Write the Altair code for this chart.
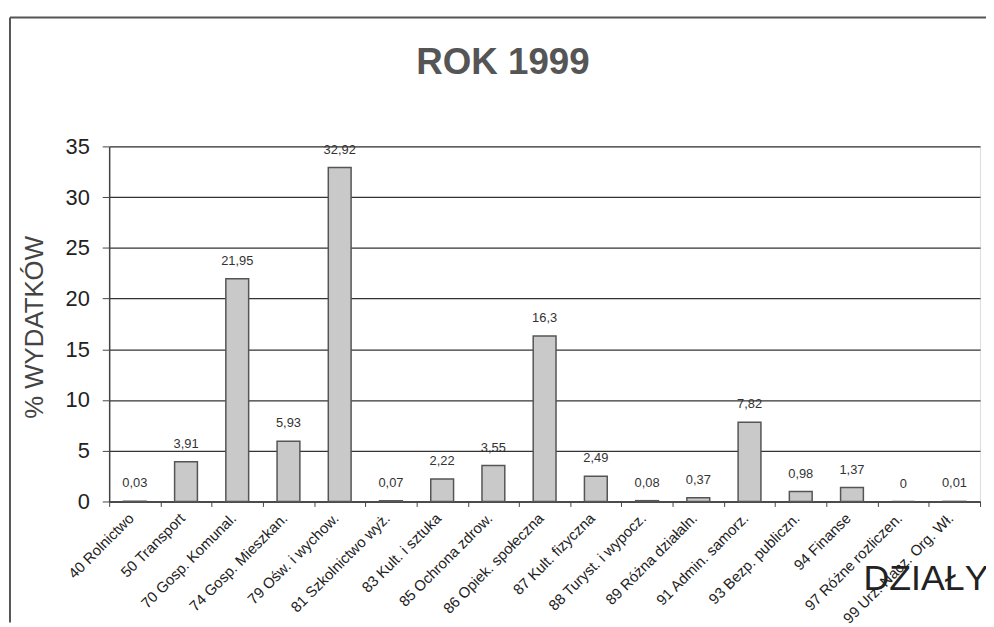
import altair as alt
import pandas as pd

categories = ["40 Rolnictwo", "50 Transport", "70 Gosp. Komunal.", "74 Gosp. Mieszkan.",
              "79 Ośw. i wychow.", "81 Szkolnictwo wyż.", "83 Kult. i sztuka",
              "85 Ochrona zdrow.", "86 Opiek. społeczna", "87 Kult. fizyczna",
              "88 Turyst. i wypocz.", "89 Różna działaln.", "91 Admin. samorz.",
              "93 Bezp. publiczn.", "94 Finanse", "97 Różne rozliczen.", "99 Urz. Nacz. Org. Wł."]
values = [0.03, 3.91, 21.95, 5.93, 32.92, 0.07, 2.22, 3.55, 16.3, 2.49, 0.08, 0.37,
          7.82, 0.98, 1.37, 0, 0.01]
value_labels = ["0,03", "3,91", "21,95", "5,93", "32,92", "0,07", "2,22", "3,55", "16,3",
                "2,49", "0,08", "0,37", "7,82", "0,98", "1,37", "0", "0,01"]
y_ticks = [0, 5, 10, 15, 20, 25, 30, 35]

df = pd.DataFrame({"dzial": categories, "val": values, "lab": value_labels})

FONT = "Liberation Sans"
W, H = 878, 358

x_enc = alt.X("dzial:N", sort=categories,
              scale=alt.Scale(paddingInner=0, paddingOuter=0),
              axis=alt.Axis(title="DZIAŁY", labelAngle=-45, labelAlign="right",
                            labelBaseline="top", labelFontSize=15, labelColor="#222",
                            labelFont=FONT, labelPadding=4, labelOffset=-9,
                            tickBand="extent",
                            tickSize=5, tickColor="#444", domainColor="#444",
                            domainWidth=1.5, labelOverlap=False, labelLimit=300,
                            titleFont=FONT, titleFontSize=36, titleFontWeight="normal",
                            titleColor="#222", titleX=886, titleY=89,
                            titleAlign="right", titleBaseline="alphabetic"))
y_enc = alt.Y("val:Q", scale=alt.Scale(domain=[0, 35], nice=False),
              axis=alt.Axis(title="% WYDATKÓW", values=y_ticks, grid=True,
                            gridColor="#333", gridWidth=1.3, labelFontSize=22,
                            labelColor="#222", labelFont=FONT, tickSize=7,
                            tickColor="#444", domainColor="#444", domainWidth=1.5,
                            labelPadding=13,
                            titleFont=FONT, titleFontSize=26, titleFontWeight="normal",
                            titleColor="#444", titleX=-67, titleY=H / 2 + 3,
                            titleAngle=-90, titleAlign="center",
                            titleBaseline="alphabetic"))

bars = alt.Chart(df).mark_bar(size=23, fill="#c9c9c9", stroke="#555",
                              strokeWidth=1.5).encode(x=x_enc, y=y_enc)

labels = alt.Chart(df).mark_text(font=FONT, fontSize=13, color="#333",
                                 baseline="middle", dy=-18).encode(
    x=alt.X("dzial:N", sort=categories), y="val:Q", text="lab:N")

title_df = pd.DataFrame({"t": ["ROK 1999"]})
title = alt.Chart(title_df).mark_text(font=FONT, fontSize=37, fontWeight="bold",
                                      color="#555", align="center",
                                      baseline="alphabetic").encode(
    x=alt.value(397), y=alt.value(-73), text="t:N")

frame_df = pd.DataFrame({"k": [1]})
frame_left = alt.Chart(frame_df).mark_rule(color="#555", strokeWidth=2).encode(
    x=alt.value(-100), y=alt.value(-130), y2=alt.value(480))
frame_top = alt.Chart(frame_df).mark_rule(color="#555", strokeWidth=2).encode(
    x=alt.value(-100), x2=alt.value(884), y=alt.value(-130))

chart = alt.layer(bars, labels, title, frame_left, frame_top).properties(
    width=W, height=H,
    autosize=alt.AutoSizeParams(type="none"),
    padding={"left": 102, "top": 137, "right": 6, "bottom": 122},
).configure_view(stroke="#444", strokeWidth=1.5).configure(background="white")

chart.save("out.html", embed_options={"renderer": "svg", "actions": False})
